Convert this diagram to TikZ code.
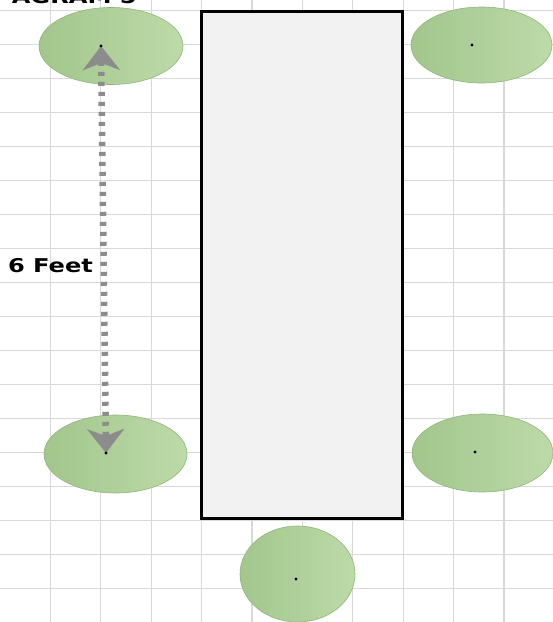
\documentclass[tikz,border=0pt]{standalone}
\usepackage{fontspec}
\newfontfamily\labelfont{DejaVu Sans}
\usetikzlibrary{arrows.meta,shapes.geometric}
\definecolor{gridc}{HTML}{D9D9D9}
\definecolor{seatL}{HTML}{A2C68C}
\definecolor{seatR}{HTML}{BDDAA9}
\definecolor{seatB}{HTML}{8DB77A}
\definecolor{tablefill}{HTML}{F2F2F2}
\definecolor{measc}{HTML}{8C8C8C}
\tikzset{
  gridline/.style={draw=gridc, line width=1.3pt},
  seat/.style={ellipse, draw=seatB, line width=0.6pt, left color=seatL, right color=seatR, inner sep=0pt},
  tablebox/.style={rectangle, draw=black, line width=3pt, fill=tablefill, inner sep=0pt},
  measure/.style={draw=measc, line width=6.5pt, dash pattern=on 4pt off 6pt,
     {Stealth[length=24pt,width=37pt,inset=7pt,fill=measc]}-{Stealth[length=24pt,width=37pt,inset=7pt,fill=measc]}},
  lbl/.style={font=\labelfont\bfseries\fontsize{19}{19}\selectfont, xscale=1.27, inner sep=0pt, text=black}
}
\begin{document}
\begin{tikzpicture}[x=1pt,y=-1pt]
\useasboundingbox (0,0) rectangle (553,622);
\clip (0,0) rectangle (553,622);
\fill[white] (0,0) rectangle (553,622);
\foreach \i in {1,...,10} \draw[gridline] (50.4*\i,0) -- (50.4*\i,622);
\foreach \j in {0,...,17} \draw[gridline] (0,10.5+34*\j) -- (553,10.5+34*\j);
\node[lbl, anchor=base east] (title) at (137,3) {AGRAM 5};
\node[tablebox, minimum width=201pt, minimum height=507pt] (tbl) at (301.5,264.5) {};
\node[seat, minimum width=144pt, minimum height=77pt] (tl) at (111,46) {};
\node[seat, minimum width=141pt, minimum height=76pt] (tr) at (481.5,45) {};
\node[seat, minimum width=143pt, minimum height=78pt] (bl) at (115.5,454) {};
\node[seat, minimum width=141pt, minimum height=78pt] (br) at (482.5,453) {};
\node[seat, minimum width=115pt, minimum height=96pt] (bt) at (297.5,574) {};
\coordinate (tlp) at (101,46);
\coordinate (trp) at (472,45);
\coordinate (blp) at (106,453);
\coordinate (brp) at (475,452);
\coordinate (btp) at (296,579);
\draw[measure] (tlp) -- (blp);
\node[lbl] (feet) at (50.5,265.5) {6 Feet};
\foreach \p in {tlp,trp,blp,brp,btp} \fill[black] (\p) circle (1.7pt);
\end{tikzpicture}
\end{document}
